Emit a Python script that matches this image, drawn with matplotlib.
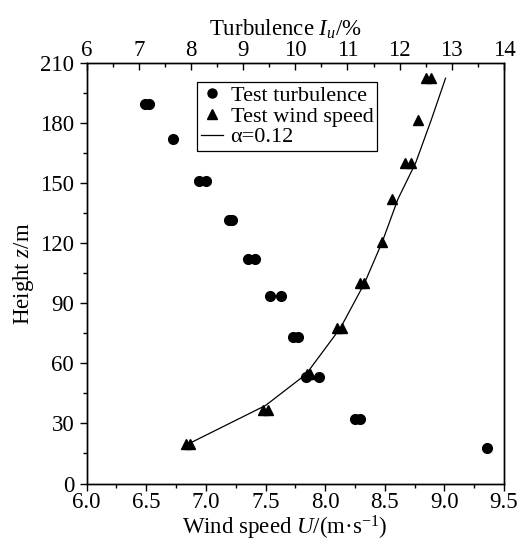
import matplotlib
matplotlib.use("Agg")
import matplotlib.pyplot as plt
from matplotlib.ticker import MultipleLocator
from matplotlib.lines import Line2D

plt.rcParams['font.family'] = ['Liberation Serif', 'DejaVu Serif']
plt.rcParams['mathtext.fontset'] = 'custom'
plt.rcParams['mathtext.rm'] = 'Liberation Serif'
plt.rcParams['mathtext.it'] = 'Liberation Serif:italic'
plt.rcParams['mathtext.bf'] = 'Liberation Serif:bold'

# Test turbulence (top axis, %) vs height (m)
turb_I = [7.12, 7.20, 7.65, 8.16, 8.29, 8.73, 8.79, 9.10, 9.23, 9.51, 9.72,
          9.96, 10.06, 10.20, 10.46, 11.14, 11.24, 13.67]
turb_z = [189.6, 189.6, 172.2, 151.1, 151.1, 131.6, 131.6, 112.2, 112.2, 93.7, 93.7,
          73.2, 73.2, 53.1, 53.1, 32.4, 32.4, 17.6]

# Test wind speed (bottom axis, m/s) vs height (m)
wind_U = [6.83, 6.87, 7.48, 7.52, 7.85, 7.87, 8.10, 8.14, 8.29, 8.33, 8.48, 8.56,
          8.67, 8.72, 8.78, 8.85, 8.89]
wind_z = [19.75, 19.75, 36.75, 36.75, 54.6, 54.6, 77.9, 77.9, 100.1, 100.1, 120.9, 142.1,
          160.4, 160.4, 181.75, 202.6, 202.6]

# alpha = 0.12 profile
fit_U = [6.86, 7.50, 7.84, 8.13, 8.33, 8.48, 8.61, 8.76, 8.89, 9.01]
fit_z = [20.0, 39.0, 54.6, 77.9, 100.1, 120.9, 142.1, 160.4, 181.75, 202.6]

fs = 16.5
lfs = 16
fig = plt.figure(figsize=(5.19, 5.48), dpi=100)
ax = fig.add_axes([0.167, 0.1177, 0.804, 0.7665])

ax.plot(fit_U, fit_z, color='black', lw=0.9, zorder=2)
ax.plot(wind_U, wind_z, linestyle='none', marker='^', color='black', ms=7.5, zorder=3)

ax.set_xlim(6.0, 9.5)
ax.set_ylim(0, 210)
ax.xaxis.set_major_locator(MultipleLocator(0.5))
ax.xaxis.set_minor_locator(MultipleLocator(0.25))
ax.yaxis.set_major_locator(MultipleLocator(30))
ax.yaxis.set_minor_locator(MultipleLocator(15))
ax.set_xticks([6.0, 6.5, 7.0, 7.5, 8.0, 8.5, 9.0, 9.5])
ax.set_xticklabels(['6.0', '6.5', '7.0', '7.5', '8.0', '8.5', '9.0', '9.5'])
ax.tick_params(axis='x', which='major', direction='out', length=5, width=1,
               labelsize=fs, top=False, pad=1)
ax.tick_params(axis='y', which='major', direction='out', length=5, width=1,
               labelsize=fs, right=False, pad=4)
ax.tick_params(axis='both', which='minor', direction='out', length=3, width=1,
               right=False, top=False)
ax.set_xlabel('Wind speed $U$/(m·s$^{\\mathrm{-1}}$)', fontsize=fs, labelpad=1)
ax.set_ylabel('Height $z$/m', fontsize=fs, labelpad=3)

ax2 = ax.twiny()
ax2.plot(turb_I, turb_z, linestyle='none', marker='o', color='black', ms=7, zorder=3)
ax2.set_xlim(6, 14)
ax2.xaxis.set_major_locator(MultipleLocator(1))
ax2.xaxis.set_minor_locator(MultipleLocator(0.5))
ax2.tick_params(axis='x', which='major', direction='in', length=5, width=1,
                labelsize=fs, pad=2)
ax2.tick_params(axis='x', which='minor', direction='in', length=3, width=1)
ax2.set_xlabel('Turbulence $I_u$/%', fontsize=fs, labelpad=3)

fig.canvas.draw()
# shift axis titles slightly left as in the reference
bx = ax.xaxis.label.get_position()
ax.xaxis.label.set_x(0.475)
ax2.xaxis.label.set_x(0.475)

for a in (ax, ax2):
    for s in a.spines.values():
        s.set_linewidth(1)
        s.set_color('black')

handles = [
    Line2D([], [], linestyle='none', marker='o', color='black', ms=6.5),
    Line2D([], [], linestyle='none', marker='^', color='black', ms=6.5),
    Line2D([], [], color='black', lw=0.9),
]
labels = ['Test turbulence', 'Test wind speed', 'α=0.12']
leg = ax.legend(handles, labels, loc='upper left', bbox_to_anchor=(0.265, 0.955),
                fontsize=lfs, frameon=True, fancybox=False, edgecolor='black',
                framealpha=1, borderpad=0.15, labelspacing=0.0, handlelength=1.0,
                handletextpad=0.35, borderaxespad=0)
leg.get_frame().set_linewidth(0.9)

fig.savefig('out.png', dpi=100)
